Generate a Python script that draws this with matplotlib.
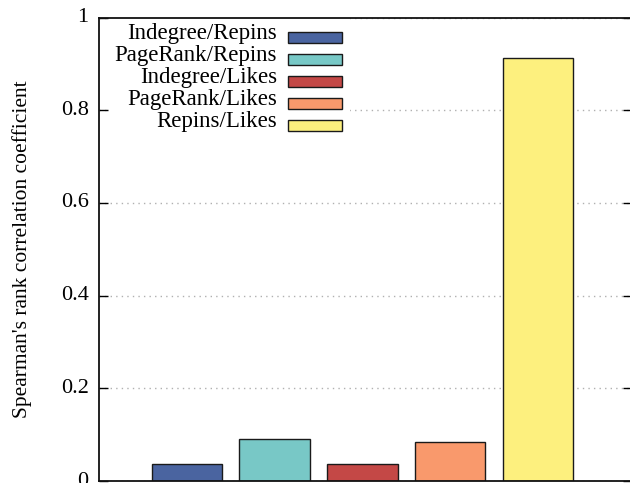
import matplotlib
matplotlib.use("Agg")
import matplotlib.pyplot as plt
from matplotlib.patches import Rectangle
from matplotlib.transforms import ScaledTranslation

# Spearman rank correlations between popularity measures
labels = ["Indegree/Repins", "PageRank/Repins", "Indegree/Likes",
          "PageRank/Likes", "Repins/Likes"]
values = [0.036, 0.090, 0.036, 0.084, 0.913]
colors = ["#4a64a0", "#78c8c6", "#c44846", "#f9996c", "#fdf07e"]
yticks = [0, 0.2, 0.4, 0.6, 0.8, 1]
ytick_labels = ["0", "0.2", "0.4", "0.6", "0.8", "1"]

plt.rcParams["font.family"] = ["Liberation Serif", "DejaVu Serif"]

W, H = 630, 483
fig = plt.figure(figsize=(W / 100, H / 100), dpi=100)
ax = fig.add_axes([99 / W, 2 / H, 533 / W, 463.5 / H])

x = list(range(len(values)))
ax.bar(x, values, width=0.8, color=colors, edgecolor="#1a1a1a",
       linewidth=1.0, zorder=2)

ax.set_xlim(-1.0, 5.07)
ax.set_ylim(0, 1)
ax.set_yticks(yticks)
ax.set_yticklabels(ytick_labels)
ax.set_xticks([])

ax.set_axisbelow(True)
ax.yaxis.grid(True, color="#b0b0b0", linewidth=1.0, linestyle=(0, (1, 3)))

ax.tick_params(axis="y", direction="in", length=6.5, width=1.0,
               labelsize=16, pad=7.5, right=True, left=True)
lift = ScaledTranslation(0, 2.5 / 100, fig.dpi_scale_trans)
for t in ax.yaxis.get_major_ticks():
    t.label1.set_transform(t.label1.get_transform() + lift)
for s in ax.spines.values():
    s.set_linewidth(1.3)
    s.set_color("#111111")

ax.set_ylabel("Spearman's rank correlation coefficient", fontsize=15.5)
ax.yaxis.set_label_coords(-0.1257, 0.5)


def fx(px):
    return px / W


def fy(py):
    return 1 - py / H


# opaque key box with right-aligned labels and colour swatches
ax.add_patch(Rectangle((fx(110), fy(136)), fx(350) - fx(110), fy(18.5) - fy(136),
                       transform=fig.transFigure, facecolor="white",
                       edgecolor="none", zorder=1.5, clip_on=False))
row_centers = [37.5, 59.5, 81.3, 103.3, 125.5]
for lab, col, yc in zip(labels, colors, row_centers):
    ax.add_patch(Rectangle((fx(288), fy(yc + 5.2)), fx(342) - fx(288), fy(yc - 5.2) - fy(yc + 5.2),
                           transform=fig.transFigure, facecolor=col,
                           edgecolor="#1a1a1a", linewidth=1.0, zorder=3,
                           clip_on=False))
    fig.text(fx(277), fy(yc + 2), lab, ha="right", va="baseline",
             fontsize=16.5, zorder=4)

fig.savefig("out.png", dpi=100)
